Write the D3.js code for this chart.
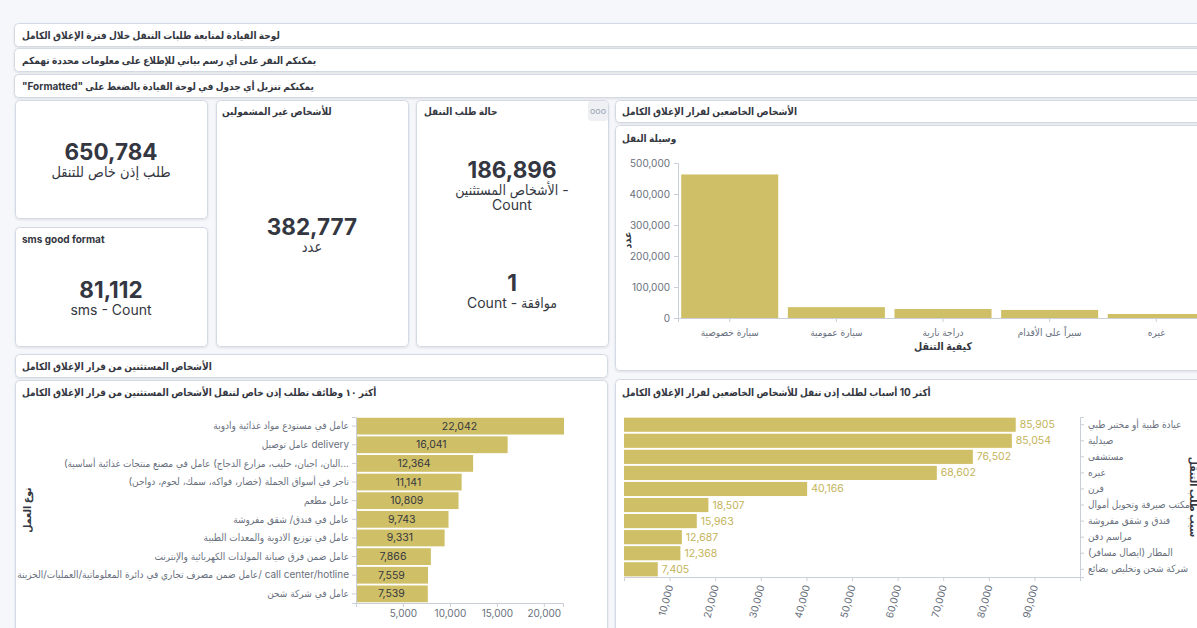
<!DOCTYPE html>
<html>
<head>
<meta charset="utf-8">
<script src="https://cdn.jsdelivr.net/npm/d3@7"></script>
<style>
  body { margin: 0; background: #f5f7fa; overflow: hidden; font-family: Inter, "DejaVu Sans Condensed", "DejaVu Sans", sans-serif; }
  svg { display: block; }
</style>
</head>
<body>
<svg id="dash" width="1197" height="628"></svg>
<script>
const headerLines = [
  "لوحة القيادة لمتابعة طلبات التنقل خلال فترة الإغلاق الكامل",
  "يمكنكم النقر على أي رسم بياني للإطلاع على معلومات محددة تهمكم",
  'يمكنكم تنزيل أي جدول في لوحة القيادة بالضغط على "Formatted"'
];

const totalValue = 650784;
const totalLabel = "طلب إذن خاص للتنقل";
const notCoveredTitle = "للأشخاص غير المشمولين";
const notCoveredValue = 382777;
const notCoveredLabel = "عدد";
const smsTitle = "sms good format";
const smsValue = 81112;
const smsLabel = "sms - Count";
const statusTitle = "حالة طلب التنقل";
const statusValues = [186896, 1];
const statusLabels = [["الأشخاص المستثنين -", "Count"], ["Count - موافقة"]];

const subjectTitle = "الأشخاص الخاضعين لقرار الإغلاق الكامل";
const transportTitle = "وسيلة النقل";
const transportModes = ["سيارة خصوصية", "سيارة عمومية", "دراجة نارية", "سيراً على الأقدام", "غيره"];
const transportCounts = [463000, 35000, 29000, 26000, 13000];
const transportXTitle = "كيفية التنقل";
const countTitle = "عدد";

const exemptTitle = "الأشخاص المستثنين من قرار الإغلاق الكامل";
const jobsTitle = "أكثر ١٠ وظائف تطلب إذن خاص لتنقل الأشخاص المستثنين من قرار الإغلاق الكامل";
const jobLabels = [
  "عامل في مستودع مواد غذائية وادوية",
  "عامل توصيل delivery",
  "البان، اجبان، حليب، مزارع الدجاج) عامل في مصنع منتجات غذائية أساسية)\u200F...",
  "تاجر في أسواق الجملة (خضار، فواكه، سمك، لحوم، دواجن)",
  "عامل مطعم",
  "عامل في فندق/ شقق مفروشة",
  "عامل في توزيع الادوية والمعدات الطبية",
  "عامل ضمن فرق صيانة المولدات الكهربائية والإنترنت",
  "عامل ضمن مصرف تجاري في دائرة المعلوماتية/العمليات/الخزينة/ call center/hotline",
  "عامل في شركة شحن"
];
const jobCounts = [22042, 16041, 12364, 11141, 10809, 9743, 9331, 7866, 7559, 7539];
const jobTicks = [5000, 10000, 15000, 20000];
const jobYTitle = "نوع العمل";

const reasonsTitle = "أكثر 10 أسباب لطلب إذن تنقل للأشخاص الخاضعين لقرار الإغلاق الكامل";
const reasonLabels = [
  "عيادة طبية أو مختبر طبي",
  "صيدلية",
  "مستشفى",
  "غيره",
  "فرن",
  "مكتب صيرفة وتحويل أموال",
  "فندق و شقق مفروشة",
  "مراسم دفن",
  "المطار (ايصال مسافر)",
  "شركة شحن وتخليص بضائع"
];
const reasonCounts = [85905, 85054, 76502, 68602, 40166, 18507, 15963, 12687, 12368, 7405];
const reasonTicks = [10000, 20000, 30000, 40000, 50000, 60000, 70000, 80000, 90000];
const reasonYTitle = "سبب طلب التنقل";

// ---- drawing ----
const barColor = "#cfbf66";
const textDark = "#343741";
const textGray = "#69707d";
const fontStack = "Inter, 'DejaVu Sans Condensed', 'DejaVu Sans', sans-serif";
const fmt = d3.format(",");

const svg = d3.select("#dash").attr("font-family", fontStack);
const filt = svg.append("defs").append("filter").attr("id", "sh")
  .attr("x", "-5%").attr("y", "-10%").attr("width", "110%").attr("height", "130%");
filt.append("feDropShadow").attr("dx", 0).attr("dy", 1).attr("stdDeviation", 1)
  .attr("flood-color", "#000").attr("flood-opacity", 0.1);

function panel(x, y, w, h) {
  svg.append("rect")
    .attr("x", x + 0.5).attr("y", y + 0.5).attr("width", w).attr("height", h)
    .attr("rx", 4).attr("fill", "#fff").attr("stroke", "#d3dae6")
    .attr("filter", "url(#sh)");
}

function label(x, y, s, size, weight, color, anchor) {
  return svg.append("text")
    .attr("x", x).attr("y", y)
    .attr("dominant-baseline", "central")
    .attr("text-anchor", anchor || "start")
    .attr("font-size", size).attr("font-weight", weight || 400)
    .attr("fill", color || textDark)
    .text(s);
}

function styleAxis(g) {
  g.selectAll("path, line").attr("stroke", "#c9ced8");
  g.selectAll("text").attr("fill", textGray).attr("font-size", 10)
    .attr("font-family", fontStack);
}

// header strips
const headerY = [23, 48, 74];
headerLines.forEach((s, i) => {
  panel(14, headerY[i], 1210, 23);
  // third line is shown right-to-left, so "Formatted" sits at the left end
  const t = i === 2 ? "\u202B" + s + "\u202C" : s;
  label(22, headerY[i] + 12, t, 10, 700);
});

// metric panels
panel(15, 100, 192, 118);
label(111, 151, fmt(totalValue), 22.5, 700, textDark, "middle");
label(111, 171, totalLabel, 14.5, 400, textDark, "middle");

panel(15, 227, 192, 119);
label(22, 239, smsTitle, 10, 700);
label(111, 289, fmt(smsValue), 22.5, 700, textDark, "middle");
label(111, 309, smsLabel, 14, 400, textDark, "middle");

panel(216, 100, 192, 246);
label(222, 111, notCoveredTitle, 10, 700);
label(312, 226, fmt(notCoveredValue), 22.5, 700, textDark, "middle");
label(312, 246, notCoveredLabel, 14.5, 400, textDark, "middle");

panel(416, 100, 192, 246);
label(424, 111, statusTitle, 10, 700);
svg.append("rect").attr("x", 588).attr("y", 101).attr("width", 20).attr("height", 20)
  .attr("rx", 3).attr("fill", "#eef0f4");
svg.append("text").attr("x", 598).attr("y", 110).attr("text-anchor", "middle")
  .attr("dominant-baseline", "central").attr("font-size", 9).attr("fill", "#98a2b3").text("ooo");
const statusY = [169, 282];
statusValues.forEach((v, i) => {
  label(512, statusY[i], fmt(v), 22.5, 700, textDark, "middle");
  statusLabels[i].forEach((s, j) => label(512, statusY[i] + 20 + j * 15, s, 14, 400, textDark, "middle"));
});

// transport chart
panel(615, 100, 600, 22);
label(622, 111, subjectTitle, 10, 700);
panel(615, 125, 600, 245);
label(622, 138, transportTitle, 10, 700);

const xF = d3.scaleBand().domain(transportModes).range([678, 1208]).paddingInner(0.09).paddingOuter(0.03);
const yF = d3.scaleLinear().domain([0, 500000]).range([318, 163]);
svg.append("g").selectAll("rect").data(transportCounts).join("rect")
  .attr("x", (d, i) => xF(transportModes[i])).attr("y", d => yF(d))
  .attr("width", xF.bandwidth()).attr("height", d => yF(0) - yF(d))
  .attr("fill", barColor);
svg.append("g").attr("transform", "translate(678,0)")
  .call(d3.axisLeft(yF).ticks(5).tickSize(4).tickPadding(4).tickFormat(fmt)).call(styleAxis);
svg.append("g").attr("transform", "translate(0,318)")
  .call(d3.axisBottom(xF).tickSize(4).tickPadding(7)).call(styleAxis);
label(943, 346, transportXTitle, 10.5, 700, textDark, "middle");
label(0, 0, countTitle, 10.5, 700, textDark, "middle").attr("transform", "translate(627,240) rotate(-90)");

// jobs chart
panel(15, 354, 592, 23);
label(22, 366, exemptTitle, 10, 700);
panel(15, 380, 592, 270);
label(22, 392, jobsTitle, 10, 700);

const xH = d3.scaleLinear().domain([0, 22042]).range([356, 563]);
const yH = d3.scaleBand().domain(jobLabels).range([417, 603]).paddingInner(0.1).paddingOuter(0.04);
svg.append("g").attr("transform", "translate(356,0)")
  .call(d3.axisLeft(yH).tickSize(4).tickPadding(3)).call(styleAxis);
svg.append("g").attr("transform", "translate(0,603)")
  .call(d3.axisBottom(xH).tickValues(jobTicks).tickSize(4).tickPadding(3).tickFormat(fmt)).call(styleAxis);
const gH = svg.append("g");
gH.selectAll("rect").data(jobCounts).join("rect")
  .attr("x", xH(0) + 1).attr("y", (d, i) => yH(jobLabels[i]))
  .attr("width", d => xH(d) - xH(0)).attr("height", yH.bandwidth())
  .attr("fill", barColor);
gH.selectAll("text").data(jobCounts).join("text")
  .attr("x", d => (xH(d) + xH(0)) / 2).attr("y", (d, i) => yH(jobLabels[i]) + yH.bandwidth() / 2)
  .attr("text-anchor", "middle").attr("dominant-baseline", "central")
  .attr("font-size", 10.5).attr("fill", textDark).text(d => fmt(d));
label(0, 0, jobYTitle, 10.5, 700, textDark, "middle").attr("transform", "translate(27,510) rotate(-90)");
label(460, 629, countTitle, 10.5, 700, textDark, "middle");

// reasons chart
panel(615, 379, 600, 270);
label(622, 392, reasonsTitle, 10, 700);

const xI = d3.scaleLinear().domain([0, 100000]).range([624, 1080]);
const yI = d3.scaleBand().domain(reasonLabels).range([417, 577]).paddingInner(0.12).paddingOuter(0.04);
svg.append("g").attr("transform", "translate(1080,0)")
  .call(d3.axisRight(yI).tickSize(4).tickPadding(4)).call(styleAxis);
const axI = svg.append("g").attr("transform", "translate(0,577)")
  .call(d3.axisBottom(xI).tickValues(reasonTicks).tickSize(4).tickFormat(fmt)).call(styleAxis);
axI.selectAll(".tick text")
  .attr("x", -8).attr("y", 2).attr("dy", "0.35em")
  .attr("transform", "rotate(-75)").attr("text-anchor", "end");
const gI = svg.append("g");
gI.selectAll("rect").data(reasonCounts).join("rect")
  .attr("x", xI(0)).attr("y", (d, i) => yI(reasonLabels[i]))
  .attr("width", d => xI(d) - xI(0)).attr("height", yI.bandwidth())
  .attr("fill", barColor);
gI.selectAll("text").data(reasonCounts).join("text")
  .attr("x", d => xI(d) + 4).attr("y", (d, i) => yI(reasonLabels[i]) + yI.bandwidth() / 2)
  .attr("dominant-baseline", "central")
  .attr("font-size", 10.5).attr("fill", "#c4b35a").text(d => fmt(d));
label(0, 0, reasonYTitle, 10.5, 700, textDark, "middle").attr("transform", "translate(1193,497) rotate(90)");
label(852, 629, countTitle, 10.5, 700, textDark, "middle");
</script>
</body>
</html>
